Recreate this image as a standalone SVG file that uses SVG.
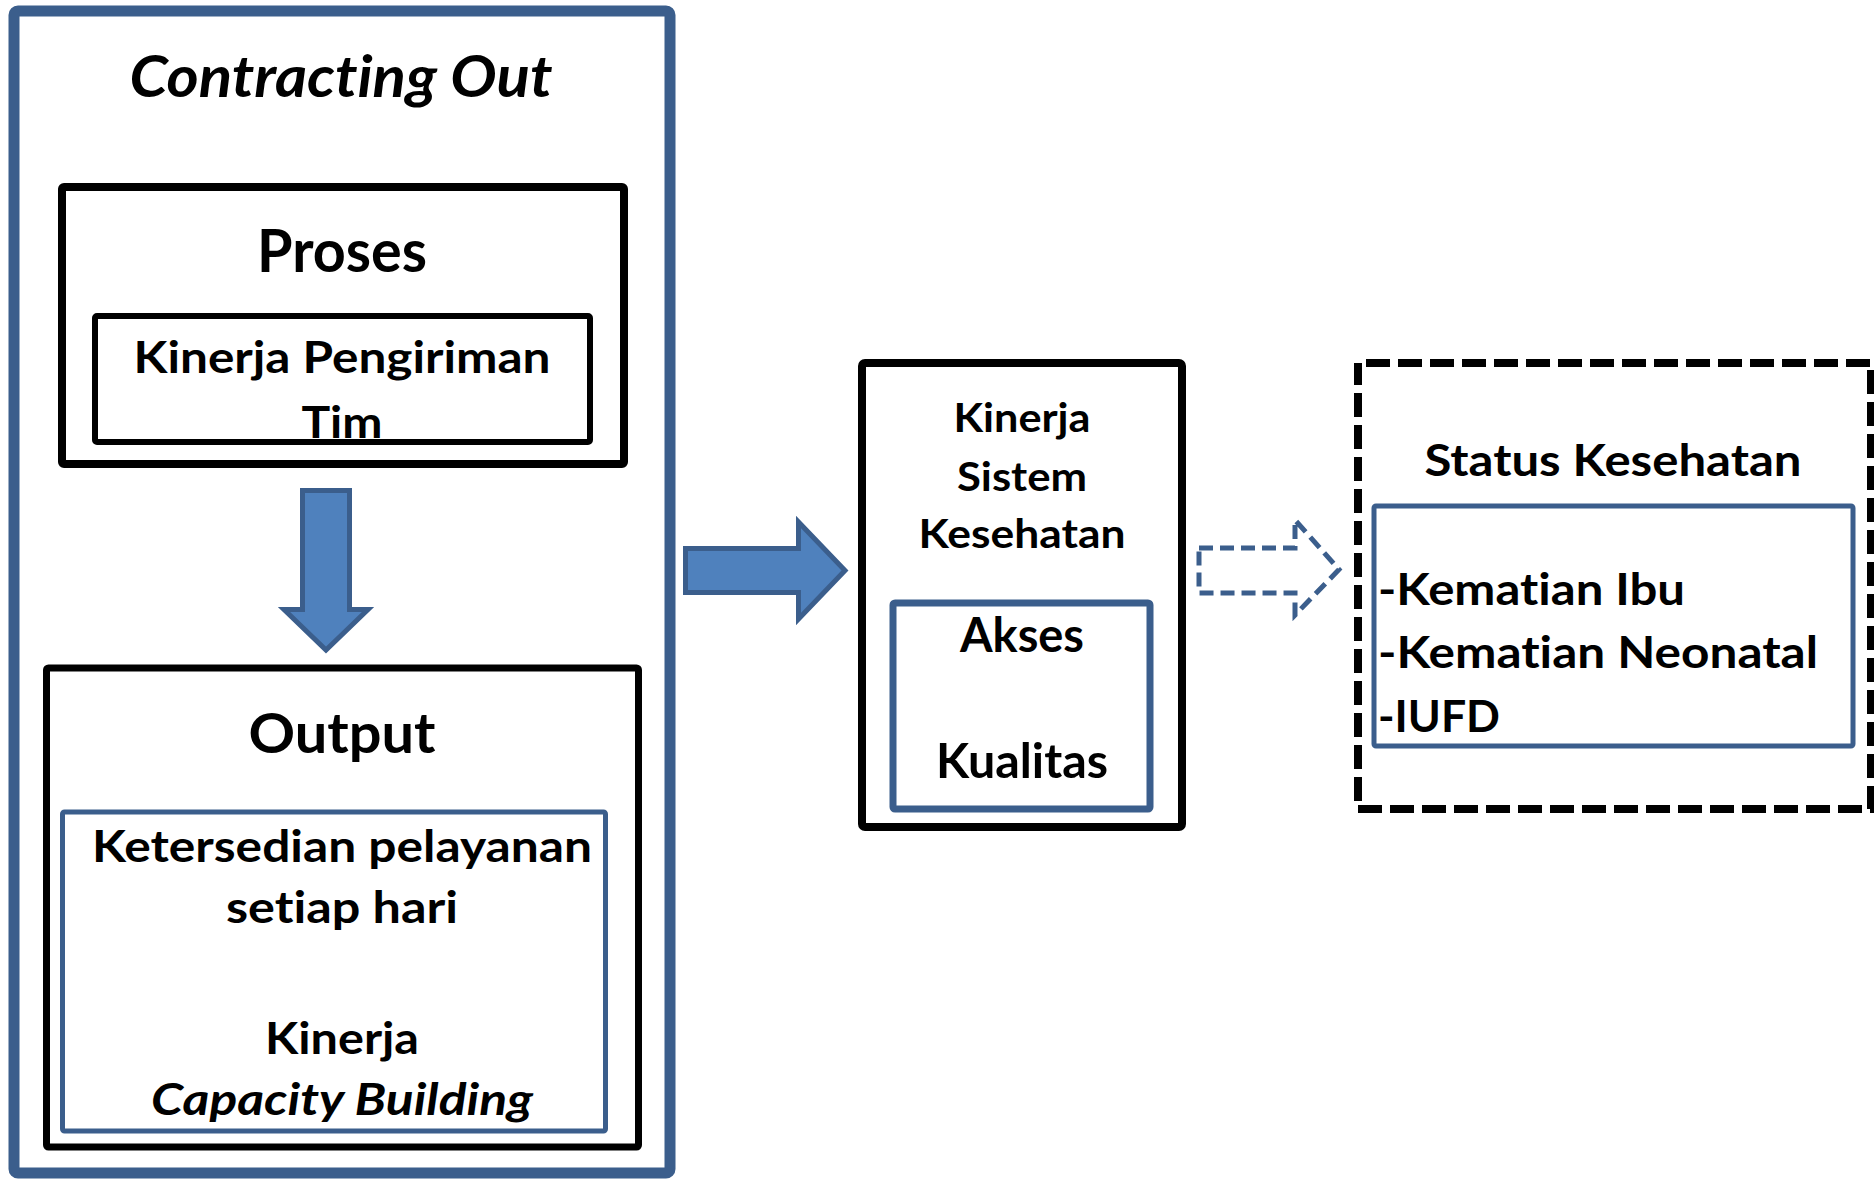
<svg xmlns="http://www.w3.org/2000/svg" width="1874" height="1182" viewBox="0 0 1874 1182">
<style>
  .t { font-family: Lato, "Open Sans", "Liberation Sans", sans-serif; font-weight: bold; fill: #000; font-variant-ligatures: none; }
  .c { text-anchor: middle; }
  .i { font-style: italic; }
  .blk { fill: #fff; stroke: #000; stroke-linejoin: round; }
  .blu { fill: #fff; stroke: #3B5E8C; stroke-linejoin: round; }
  .arr { fill: #4F81BD; stroke: #3B5E8C; stroke-width: 5; stroke-linejoin: miter; }
  .darr { fill: none; stroke: #3B5E8C; stroke-width: 5; stroke-dasharray: 14 7; }
</style>
<rect width="1874" height="1182" fill="#fff"/>

<g id="contracting-out">
  <rect class="blu" x="14" y="11" width="656" height="1162" rx="4" stroke-width="11"/>
  <text class="t c i" x="341" y="97" font-size="58" textLength="423" lengthAdjust="spacingAndGlyphs">Contracting Out</text>
</g>

<g id="proses">
  <rect class="blk" x="62" y="187" width="562" height="277" rx="2" stroke-width="8"/>
  <text class="t c" x="342" y="272" font-size="60" textLength="170" lengthAdjust="spacingAndGlyphs">Proses</text>
</g>

<g id="kinerja-pengiriman-tim">
  <rect class="blk" x="95" y="316" width="495" height="126" rx="2" stroke-width="6"/>
  <text class="t c" x="342" y="373" font-size="44" textLength="417" lengthAdjust="spacingAndGlyphs">Kinerja Pengiriman</text>
  <text class="t c" x="342" y="438" font-size="44" textLength="81" lengthAdjust="spacingAndGlyphs">Tim</text>
</g>

<g id="output">
  <rect class="blk" x="46.5" y="668" width="592" height="479" rx="2" stroke-width="7"/>
  <text class="t c" x="342" y="753" font-size="56" textLength="187" lengthAdjust="spacingAndGlyphs">Output</text>
</g>

<g id="output-detail">
  <rect class="blu" x="62.5" y="812" width="543" height="319" rx="2" stroke-width="5"/>
  <text class="t c" x="342" y="862" font-size="44" textLength="500" lengthAdjust="spacingAndGlyphs">Ketersedian pelayanan</text>
  <text class="t c" x="342" y="923" font-size="44" textLength="232" lengthAdjust="spacingAndGlyphs">setiap hari</text>
  <text class="t c" x="342" y="1054" font-size="44" textLength="154" lengthAdjust="spacingAndGlyphs">Kinerja</text>
  <text class="t c i" x="342" y="1115" font-size="44" textLength="382" lengthAdjust="spacingAndGlyphs">Capacity Building</text>
</g>

<g id="kinerja-sistem-kesehatan">
  <rect class="blk" x="862" y="363" width="320" height="464" rx="3" stroke-width="8"/>
  <text class="t c" x="1022" y="432" font-size="41" textLength="137" lengthAdjust="spacingAndGlyphs">Kinerja</text>
  <text class="t c" x="1022" y="491" font-size="41" textLength="130" lengthAdjust="spacingAndGlyphs">Sistem</text>
  <text class="t c" x="1022" y="548" font-size="41" textLength="207" lengthAdjust="spacingAndGlyphs">Kesehatan</text>
</g>

<g id="akses-kualitas">
  <rect class="blu" x="893" y="603" width="257" height="206" rx="2" stroke-width="7"/>
  <text class="t c" x="1022" y="652" font-size="48" textLength="124" lengthAdjust="spacingAndGlyphs">Akses</text>
  <text class="t c" x="1022" y="778" font-size="48" textLength="172" lengthAdjust="spacingAndGlyphs">Kualitas</text>
</g>

<g id="status-kesehatan">
  <rect x="1358" y="363" width="513" height="446" fill="#fff" stroke="#000" stroke-width="8" stroke-dasharray="24 8" stroke-dashoffset="-8"/>
  <text class="t c" x="1613" y="476" font-size="44" textLength="377" lengthAdjust="spacingAndGlyphs">Status Kesehatan</text>
</g>

<g id="status-detail">
  <rect class="blu" x="1374" y="506" width="479" height="240" rx="2" stroke-width="5"/>
  <text class="t" x="1378" y="605" font-size="44" textLength="307" lengthAdjust="spacingAndGlyphs">-Kematian Ibu</text>
  <text class="t" x="1378" y="668" font-size="44" textLength="440" lengthAdjust="spacingAndGlyphs">-Kematian Neonatal</text>
  <text class="t" x="1378" y="732" font-size="44" textLength="122" lengthAdjust="spacingAndGlyphs">-IUFD</text>
</g>

<g id="connectors">
  <path id="arrow-proses-output" class="arr" d="M302.5,490.5 L349.5,490.5 L349.5,609.5 L368,609.5 L326,650 L284,609.5 L302.5,609.5 Z"/>
  <path id="arrow-contracting-kinerja" class="arr" d="M685.5,548.5 L798.5,548.5 L798.5,522 L845,570.5 L798.5,619 L798.5,592.5 L685.5,592.5 Z"/>
  <path id="arrow-kinerja-status" class="darr" d="M1199,548 L1295,548 L1295,520 L1339,569.5 L1295,615 L1295,593 L1199,593 Z"/>
</g>
</svg>
